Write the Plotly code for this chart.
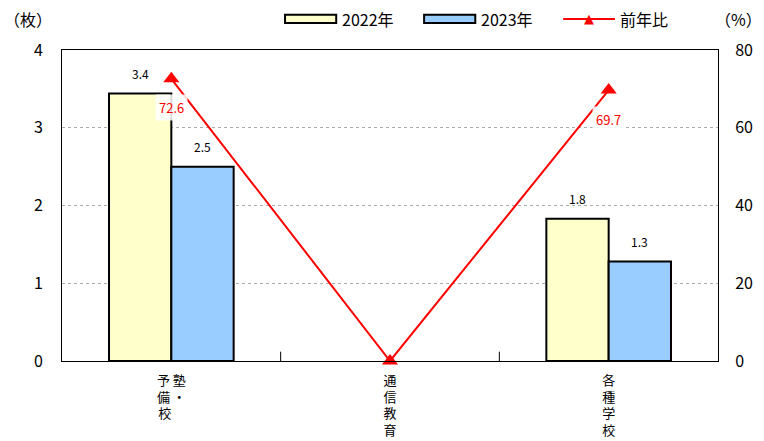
import plotly.graph_objects as go

categories = ["塾・予備校", "通信教育", "各種学校"]
tick_labels = ["予 塾<br>備 ・<br>校　", "通<br>信<br>教<br>育", "各<br>種<br>学<br>校"]
values_2022 = [3.44, 0, 1.83]
values_2023 = [2.50, 0, 1.28]
yoy_ratio = [72.6, 0, 69.7]
series_names = ["2022年", "2023年", "前年比"]
bar_colors = ["#FFFFCC", "#99CCFF"]
LINE_COLOR = "#FF0000"

FONT = "Noto Sans CJK JP"

def edge(vals):
    return [2 if v else 0 for v in vals]

fig = go.Figure()
for name, vals, col in zip(series_names[:2], [values_2022, values_2023], bar_colors):
    fig.add_trace(go.Bar(
        x=categories, y=vals, name=name, showlegend=False,
        marker=dict(color=col, line=dict(color="black", width=edge(vals))),
    ))
fig.add_trace(go.Scatter(
    x=categories, y=yoy_ratio, name=series_names[2], yaxis="y2", showlegend=False,
    mode="lines+markers",
    line=dict(color=LINE_COLOR, width=2),
    marker=dict(symbol="triangle-up", size=14, color=LINE_COLOR),
    cliponaxis=False,
))

annotations = []
for series, dx in [(values_2022, -31), (values_2023, 31)]:
    for c, v in zip(categories, series):
        if v:
            annotations.append(dict(
                x=c, y=v, xref="x", yref="y", text=f"{v:.1f}",
                showarrow=False, xshift=dx, yshift=20, yanchor="middle",
                font=dict(size=12, color="black", family=FONT),
            ))
for c, v in zip(categories, yoy_ratio):
    if v:
        annotations.append(dict(
            x=c, y=v, xref="x", yref="y2", text=f"{v:.1f}",
            showarrow=False, yshift=-29, yanchor="middle",
            bgcolor="rgba(255,255,255,0.85)", borderpad=3,
            font=dict(size=13, color=LINE_COLOR, family=FONT),
        ))

LEG_Y = 1.1
annotations.append(dict(text="（枚）", xref="paper", yref="paper", x=-0.052, y=LEG_Y,
                        xanchor="center", yanchor="middle", showarrow=False,
                        font=dict(size=16, color="black", family=FONT)))
annotations.append(dict(text="（%）", xref="paper", yref="paper", x=1.031, y=LEG_Y,
                        xanchor="center", yanchor="middle", showarrow=False,
                        font=dict(size=16, color="black", family=FONT)))

# manual legend
shapes = []
box_x = [(0.340, 0.418), (0.552, 0.630)]
for (x0, x1), col in zip(box_x, bar_colors):
    shapes.append(dict(type="rect", xref="paper", yref="paper", x0=x0, x1=x1,
                       y0=LEG_Y - 0.013, y1=LEG_Y + 0.013,
                       fillcolor=col, line=dict(color="black", width=2)))
shapes.append(dict(type="line", xref="paper", yref="paper", x0=0.764, x1=0.843,
                   y0=LEG_Y, y1=LEG_Y, line=dict(color=LINE_COLOR, width=2)))
annotations.append(dict(text="▲", xref="paper", yref="paper", x=0.8035, y=LEG_Y,
                        xanchor="center", yanchor="middle", showarrow=False,
                        font=dict(size=13, color=LINE_COLOR, family="DejaVu Sans")))
for name, tx in zip(series_names, [0.424, 0.636, 0.848]):
    annotations.append(dict(text=name, xref="paper", yref="paper", x=tx, y=LEG_Y,
                            xanchor="left", yanchor="middle", showarrow=False,
                            font=dict(size=16, color="black", family=FONT)))

for b in [0.5, 1.5]:
    shapes.append(dict(type="line", xref="x", yref="paper", x0=b, x1=b, y0=0, y1=0.03,
                       line=dict(color="black", width=1)))

fig.update_layout(
    width=764, height=441,
    margin=dict(l=54, r=54, t=42, b=88, autoexpand=False),
    paper_bgcolor="white", plot_bgcolor="white",
    barmode="group", bargap=0.43, bargroupgap=0,
    font=dict(family=FONT, size=14, color="black"),
    showlegend=False,
    xaxis=dict(
        tickvals=categories, ticktext=tick_labels, tickangle=0,
        showline=True, linecolor="black", linewidth=1, mirror=True,
        ticks="", showgrid=False, tickfont=dict(size=13, family=FONT),
        automargin=False, ticklabelstandoff=7,
    ),
    yaxis=dict(
        range=[0, 4], dtick=1, showline=True, linecolor="black", linewidth=1,
        mirror=True, showgrid=True, gridcolor="#aaaaaa", griddash="dot",
        gridwidth=1, ticks="", tickfont=dict(size=16, family=FONT),
        zeroline=False, automargin=False, ticklabelstandoff=15,
    ),
    yaxis2=dict(
        range=[0, 80], dtick=20, overlaying="y", side="right",
        showline=True, linecolor="black", linewidth=1, showgrid=False,
        ticks="", tickfont=dict(size=16, family=FONT), zeroline=False,
        automargin=False, ticklabelstandoff=13,
    ),
    annotations=annotations,
    shapes=shapes,
)

fig.write_html("out.html")
